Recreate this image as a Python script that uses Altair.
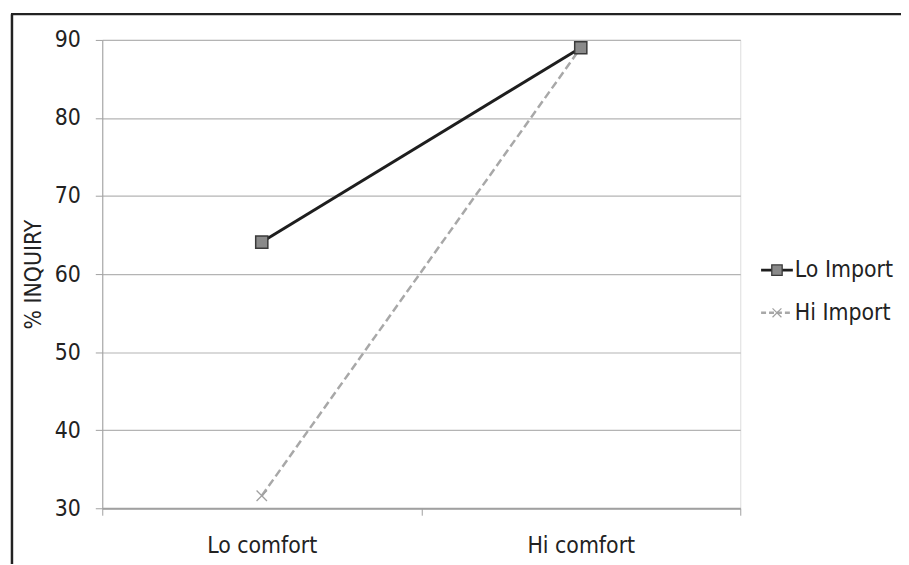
import altair as alt
import pandas as pd

categories = ["Lo comfort", "Hi comfort"]
series = ["Lo Import", "Hi Import"]
lo_import = [64.1, 89.0]
hi_import = [31.6, 89.0]
y_ticks = [30, 40, 50, 60, 70, 80, 90]

rows = []
for s, vals in zip(series, [lo_import, hi_import]):
    for c, v in zip(categories, vals):
        rows.append({"comfort": c, "series": s, "value": v})
df = pd.DataFrame(rows)

W, H = 643, 472
FONT = "Liberation Sans Narrow, DejaVu Sans Condensed, Open Sans"
FS = 23

x_enc = alt.X("comfort:N", sort=categories,
              scale=alt.Scale(type="band", domain=categories, paddingInner=0, paddingOuter=0),
              axis=alt.Axis(title=None, labelAngle=0, labelFontSize=FS, labelColor="#222",
                            labelFont=FONT, labelPadding=20, tickBand="extent", ticks=True,
                            tickSize=7, tickColor="#a0a0a0", domainColor="#a0a0a0",
                            domainWidth=2, grid=False))
y_enc = alt.Y("value:Q", scale=alt.Scale(domain=[30, 90], nice=False, zero=False),
              axis=alt.Axis(values=y_ticks, title="% INQUIRY", titleFontSize=FS,
                            titleFont=FONT, titleFontWeight="normal", titleColor="#222",
                            titlePadding=9, labelFontSize=FS, labelFont=FONT,
                            labelColor="#222", labelPadding=15, tickSize=7,
                            tickColor="#a0a0a0", domainColor="#a0a0a0", grid=True,
                            gridColor="#b4b4b4", gridWidth=1.2))

base = alt.Chart(df).encode(x=x_enc, y=y_enc)

hi_line = base.transform_filter(alt.datum.series == "Hi Import").mark_line(
    color="#a8a8a8", strokeWidth=2.5, strokeDash=[8, 4])
lo_line = base.transform_filter(alt.datum.series == "Lo Import").mark_line(
    color="#1e1e1e", strokeWidth=3)
hi_pts = base.transform_filter(alt.datum.series == "Hi Import").mark_point(
    shape="M-1,-1L1,1M1,-1L-1,1", size=110, stroke="#a0a0a0", strokeWidth=1.3,
    filled=False, opacity=1)
lo_pts = base.transform_filter(alt.datum.series == "Lo Import").mark_point(
    shape="square", size=150, fill="#8a8a8a", stroke="#3a3a3a", strokeWidth=1.5,
    filled=True, opacity=1)

# manual legend
leg_y = [232, 275]
legend_layers = []
leg_df = pd.DataFrame({"series": series})
styles = [
    dict(color="#1e1e1e", strokeWidth=3, dash=[1, 0]),
    dict(color="#a8a8a8", strokeWidth=2.5, dash=[5, 3]),
]
for i, s in enumerate(series):
    d = alt.Chart(leg_df).transform_filter(alt.datum.series == s)
    st = styles[i]
    legend_layers.append(d.mark_rule(color=st["color"], strokeWidth=st["strokeWidth"],
                                     strokeDash=st["dash"]).encode(
        x=alt.value(664), x2=alt.value(696), y=alt.value(leg_y[i])))
    if i == 0:
        legend_layers.append(d.mark_point(shape="square", size=110, fill="#8a8a8a",
                                          stroke="#3a3a3a", strokeWidth=1.3, filled=True,
                                          opacity=1).encode(
            x=alt.value(680), y=alt.value(leg_y[i])))
    else:
        legend_layers.append(d.mark_point(shape="M-1,-1L1,1M1,-1L-1,1", size=80,
                                          stroke="#a0a0a0", strokeWidth=1.2, filled=False,
                                          opacity=1).encode(
            x=alt.value(680), y=alt.value(leg_y[i])))
    legend_layers.append(d.mark_text(align="left", baseline="middle", fontSize=FS,
                                     font=FONT, color="#222").encode(
        x=alt.value(698), y=alt.value(leg_y[i]), text="series:N"))

# figure frame
frame_df = pd.DataFrame({"k": [0]})
frame_left = alt.Chart(frame_df).mark_rule(color="#222", strokeWidth=2.5).encode(
    x=alt.value(-91), y=alt.value(-26), y2=alt.value(530))
frame_top = alt.Chart(frame_df).mark_rule(color="#222", strokeWidth=2.5).encode(
    x=alt.value(-92), x2=alt.value(810), y=alt.value(-26))

chart = alt.layer(hi_line, lo_line, hi_pts, lo_pts, *legend_layers, frame_left, frame_top).properties(
    width=W, height=H,
    autosize=alt.AutoSizeParams(type="none"),
    padding={"left": 95, "top": 30, "right": 162, "bottom": 54},
).configure_view(stroke=None).configure(background="white")

chart.save("out.html", embed_options={"renderer": "svg", "actions": False})
